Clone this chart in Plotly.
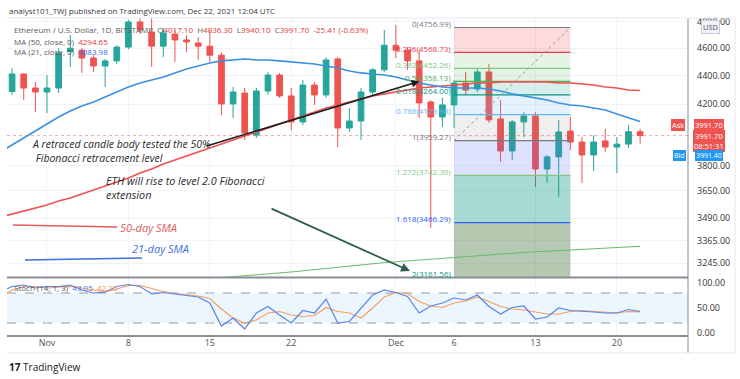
import math
import pandas as pd
import plotly.graph_objects as go

# ---------------- data ----------------
dates = [d.strftime("%Y-%m-%d") for d in pd.date_range("2021-10-28", "2021-12-22")]

open_p = [3912, 4288, 4411, 4312,
          4284, 4312, 4575, 4585, 4527, 4469, 4506, 4608, 4800, 4723,
          4615, 4707, 4662, 4639, 4615, 4548, 4202, 4277, 3995, 4291,
          4404, 4257, 4081, 4333, 4264, 4520, 4041, 4087, 4284, 4441,
          4622, 4585, 4506, 4215, 4114, 4195, 4347, 4305, 4426, 4101,
          3893, 4081, 4121, 3781, 3856, 4021, 3950, 3868, 3957, 3918,
          3937, 4017.10]
high_p = [4300, 4452, 4417, 4355,
          4404, 4600, 4700, 4600, 4548, 4520, 4622, 4816, 4868, 4855,
          4753, 4738, 4700, 4685, 4738, 4570, 4319, 4312, 4312, 4426,
          4419, 4312, 4369, 4355, 4534, 4534, 4174, 4312, 4455, 4738,
          4777, 4608, 4585, 4229, 4243, 4369, 4426, 4455, 4484, 4229,
          4094, 4147, 4147, 3868, 4094, 4114, 3982, 3995, 4035, 3982,
          4061, 4036.30]
low_p = [3880, 4264, 4229, 4147,
         4141, 4277, 4462, 4419, 4426, 4319, 4484, 4593, 4707, 4462,
         4534, 4498, 4570, 4513, 4498, 4127, 4107, 3963, 3976, 4264,
         4243, 4028, 4061, 4195, 4243, 3918, 4015, 3963, 4257, 4426,
         4527, 4441, 4107, 3437, 4048, 4041, 4264, 4284, 4074, 3825,
         3837, 3982, 3672, 3696, 3614, 3899, 3696, 3769, 3887, 3756,
         3912, 3940.10]
close_p = [4280, 4411, 4312, 4284,
           4312, 4563, 4600, 4527, 4469, 4506, 4608, 4800, 4738, 4615,
           4715, 4662, 4647, 4615, 4548, 4202, 4284, 4008, 4291, 4404,
           4257, 4081, 4333, 4264, 4513, 4041, 4087, 4284, 4441, 4622,
           4585, 4506, 4209, 4114, 4195, 4347, 4298, 4426, 4094, 3893,
           4081, 4121, 3781, 3856, 4015, 3950, 3868, 3950, 3918, 3937,
           4017, 3991.70]

ma50 = [3497, 3515, 3532, 3549, 3566, 3589, 3607, 3631, 3654, 3678,
        3702, 3726, 3756, 3781, 3812, 3837, 3862, 3887, 3912, 3937,
        3963, 3989, 4015, 4041, 4067, 4094, 4121, 4147, 4174, 4195,
        4215, 4236, 4257, 4271, 4284, 4298, 4312, 4319, 4326, 4333,
        4340, 4347, 4347, 4355, 4355, 4355, 4355, 4355, 4347, 4347,
        4340, 4333, 4319, 4312, 4298, 4294.65]
ma21 = [3887, 3931, 3976, 4021, 4067, 4114, 4154, 4188, 4215, 4250,
        4284, 4319, 4347, 4369, 4390, 4419, 4447, 4469, 4491, 4506,
        4513, 4520, 4513, 4513, 4506, 4498, 4491, 4484, 4469, 4455,
        4433, 4419, 4411, 4404, 4390, 4369, 4347, 4333, 4319, 4312,
        4312, 4312, 4305, 4291, 4271, 4257, 4243, 4229, 4209, 4195,
        4188, 4174, 4161, 4134, 4107, 4083.98]

ma_long_dates = ["2021-11-14", "2021-11-22", "2021-11-30", "2021-12-06", "2021-12-12", "2021-12-22"]
ma_long = [3160, 3199, 3248, 3275, 3302, 3335]

stoch_k = [82, 93, 96, 90,
           93, 93, 96, 86, 80, 82, 93, 97, 93, 78, 81, 78, 75, 72, 60, 14,
           30, 8, 40, 53, 36, 20, 45, 40, 68, 20, 23, 50, 76, 86,
           81, 73, 40, 54, 60, 70, 66, 76, 53, 38, 51, 54, 28, 32, 50, 45,
           44, 42, 40, 40, 47, 43.05]
stoch_d = [72, 86, 93, 93,
           90, 91, 93, 90, 86, 82, 88, 95, 95, 89, 83, 79, 76, 74, 69, 48,
           30, 20, 26, 40, 43, 36, 33, 35, 51, 43, 40, 30, 50, 72,
           81, 79, 63, 54, 51, 60, 64, 72, 63, 53, 48, 46, 42, 38, 38, 43,
           45, 43, 41, 40, 43, 42.25]

fib_levels = ["0", "0.236", "0.382", "0.5", "0.618", "0.786", "1", "1.272", "1.618", "2"]
fib_prices = [4756.99, 4568.73, 4452.26, 4358.13, 4264.00, 4129.98, 3959.27, 3742.30, 3466.29, 3161.56]
fib_start, fib_end = "2021-12-06", "2021-12-16"

price_ticks = [4800, 4600, 4400, 4200, 3800, 3650, 3490, 3365, 3245]
date_ticks = ["2021-11-01", "2021-11-08", "2021-11-15", "2021-11-22", "2021-12-01", "2021-12-06", "2021-12-13", "2021-12-20"]
date_tick_text = ["Nov", "8", "15", "22", "Dec", "6", "13", "20"]
x_range = ["2021-10-28 13:28", "2021-12-26 02:47"]
y_range = [3173, 4831]

# ---------------- styles ----------------
fib_line_colors = ["#787b86", "#f23645", "#81c784", "#4caf50", "#089981", "#64b5f6",
                   "#787b86", "#81c784", "#2962ff", "#089981"]
fib_band_colors = ["rgba(242,54,69,0.18)", "rgba(129,199,132,0.20)", "rgba(76,175,80,0.16)",
                   "rgba(8,153,129,0.16)", "rgba(100,181,246,0.18)", "rgba(120,123,134,0.12)",
                   "rgba(90,110,240,0.20)", "rgba(8,153,129,0.36)", "rgba(70,120,60,0.40)"]

W, H = 740, 379
L, R, T, B = 7, 52, 18, 43
PW = W - L - R
PH = H - T - B


def xp(px):
    return (px - L) / PW


def yp(py):
    return (H - B - py) / PH


lg = math.log10
fig = go.Figure()

# fib bands (behind everything)
for i in range(len(fib_prices) - 1):
    top, bot = fib_prices[i], fib_prices[i + 1]
    fig.add_trace(go.Scatter(x=[fib_start, fib_end, fib_end, fib_start, fib_start],
                             y=[top, top, bot, bot, top], mode="lines", fill="toself",
                             fillcolor=fib_band_colors[i], line=dict(width=0), hoverinfo="skip"))
for p, c in zip(fib_prices, fib_line_colors):
    fig.add_trace(go.Scatter(x=[fib_start, fib_end], y=[p, p], mode="lines",
                             line=dict(color=c, width=1.2), hoverinfo="skip"))

# last price line
fig.add_trace(go.Scatter(x=x_range, y=[close_p[-1], close_p[-1]], mode="lines",
                         line=dict(color="rgba(239,83,80,0.5)", width=1, dash="dot"), hoverinfo="skip"))

# MAs
fig.add_trace(go.Scatter(x=ma_long_dates, y=ma_long, mode="lines",
                         line=dict(color="#66bb6a", width=1), hoverinfo="skip"))
fig.add_trace(go.Scatter(x=dates, y=ma50, mode="lines",
                         line=dict(color="#ef5350", width=1.6), hoverinfo="skip"))
fig.add_trace(go.Scatter(x=dates, y=ma21, mode="lines",
                         line=dict(color="#3d8fe0", width=1.6), hoverinfo="skip"))

# candles
fig.add_trace(go.Candlestick(
    x=dates, open=open_p, high=high_p, low=low_p, close=close_p,
    increasing=dict(line=dict(color="#26a69a", width=1), fillcolor="#26a69a"),
    decreasing=dict(line=dict(color="#ef5350", width=1), fillcolor="#ef5350"),
    whiskerwidth=0, hoverinfo="skip"))

# fib trend (dotted diagonal)
fig.add_trace(go.Scatter(x=[fib_start, fib_end], y=[fib_prices[6], fib_prices[0]], mode="lines",
                         line=dict(color="#9598a1", width=1, dash="dot"), hoverinfo="skip"))

# stochastic
fig.add_trace(go.Scatter(x=dates, y=stoch_d, mode="lines", xaxis="x2", yaxis="y2",
                         line=dict(color="#f5a05e", width=1.2), hoverinfo="skip"))
fig.add_trace(go.Scatter(x=dates, y=stoch_k, mode="lines", xaxis="x2", yaxis="y2",
                         line=dict(color="#5b83ec", width=1.2), hoverinfo="skip"))

shapes = []
# stoch band
shapes.append(dict(type="rect", xref="paper", yref="y2", x0=0, x1=1, y0=20, y1=80,
                   fillcolor="rgba(33,150,243,0.09)", line=dict(width=0), layer="below"))
for lv in (20, 80):
    shapes.append(dict(type="line", xref="paper", yref="y2", x0=0, x1=1, y0=lv, y1=lv,
                       line=dict(color="#9598a1", width=1, dash="dash"), layer="below"))

# pane separators / frame
shapes.append(dict(type="line", xref="paper", yref="paper", x0=0, x1=1, y0=yp(277.5), y1=yp(277.5),
                   line=dict(color="#8a8d96", width=2)))
shapes.append(dict(type="line", xref="paper", yref="paper", x0=0, x1=1, y0=yp(336), y1=yp(336),
                   line=dict(color="#8a8d96", width=2)))
shapes.append(dict(type="line", xref="paper", yref="paper", x0=1, x1=1, y0=yp(353), y1=yp(18),
                   line=dict(color="#8a8d96", width=1)))
shapes.append(dict(type="line", xref="paper", yref="paper", x0=0, x1=xp(735), y0=yp(18), y1=yp(18),
                   line=dict(color="#e6e8ee", width=1)))
shapes.append(dict(type="line", xref="paper", yref="paper", x0=0, x1=xp(735), y0=yp(353), y1=yp(353),
                   line=dict(color="#e6e8ee", width=1)))
shapes.append(dict(type="line", xref="paper", yref="paper", x0=xp(735), x1=xp(735), y0=yp(353), y1=yp(18),
                   line=dict(color="#e6e8ee", width=1)))

# legend strokes next to SMA labels
shapes.append(dict(type="line", xref="paper", yref="paper", x0=xp(13), x1=xp(117), y0=yp(225), y1=yp(227),
                   line=dict(color="#e25b5b", width=1.6)))
shapes.append(dict(type="line", xref="paper", yref="paper", x0=xp(25), x1=xp(142), y0=yp(260), y1=yp(258),
                   line=dict(color="#3f6fd8", width=1.6)))

FONT = "Open Sans, Liberation Sans, Arial, sans-serif"
ann = []


def text(px, py, s, size=9, color="#555", anchor="left"):
    ann.append(dict(xref="paper", yref="paper", x=xp(px), y=yp(py), text=s, showarrow=False,
                    xanchor=anchor, yanchor="middle", align="left",
                    font=dict(size=size, color=color, family=FONT)))


red = "#e53935"
blue = "#2e6be6"
sp = lambda c, s: f'<span style="color:{c}">{s}</span>'

text(7, 10, "analyst101_TWJ published on TradingView.com, Dec 22, 2021 12:04 UTC", 8, "#3a3a3a")
text(12, 29, "Ethereum / U.S. Dollar, 1D, BITSTAMP  O" + sp(red, "4017.10") + "  H" + sp(red, "4036.30")
     + "  L" + sp(red, "3940.10") + "  C" + sp(red, "3991.70") + "  " + sp(red, "-25.41 (-0.63%)"), 8, "#5a5a5a")
text(12, 41, "MA (50, close, 0)  " + sp(red, "4294.65"), 8, "#5a5a5a")
text(12, 52, "MA (21, close, 0)  " + sp(blue, "4083.98"), 8, "#5a5a5a")

text(30, 150.5, "<i>A retraced candle body tested the 50%<br> Fibonacci retracement level</i>", 10.5, "#2b2b2b")
text(104, 187, "<i>ETH will rise to level 2.0 Fibonacci<br>extension</i>", 10.8, "#2b2b2b")
text(118, 227, "<i>50-day SMA</i>", 11, "#e25b5b")
text(130, 248, "<i>21-day SMA</i>", 11, "#3f6fd8")

text(12, 287, "Stoch (14, 1, 3)  " + sp("#4f77e6", "43.05") + "  " + sp("#f09a55", "42.25"), 8, "#5a5a5a")
text(7, 367, "<b>17</b> TradingView", 10, "#222")

# fib labels
for lv, p, c in zip(fib_levels, fib_prices, fib_line_colors):
    if p >= y_range[0]:
        ann.append(dict(xref="x", yref="y", x=fib_start, y=lg(p), text=f"{lv}({p:.2f})", showarrow=False,
                        xanchor="right", yanchor="middle", xshift=-1, yshift=4,
                        font=dict(size=8, color=c, family=FONT)))
    else:
        ann.append(dict(xref="x", yref="paper", x=fib_start, y=yp(273), text=f"{lv}({p:.2f})", showarrow=False,
                        xanchor="right", yanchor="middle", xshift=-1,
                        font=dict(size=8, color=c, family=FONT)))

# arrows
ann.append(dict(xref="x", yref="y", x="2021-12-03", y=lg(fib_prices[3]), ax=-214, ay=65,
                axref="pixel", ayref="pixel", text="", showarrow=True, arrowhead=2,
                arrowsize=1, arrowwidth=1.5, arrowcolor="#1c1c1c"))
ann.append(dict(xref="paper", yref="paper", x=xp(410), y=yp(271), ax=-140, ay=-63,
                text="", showarrow=True, arrowhead=2, arrowsize=1, arrowwidth=1.8, arrowcolor="#2f5d50"))


def box(px, py, s, bg, fc="white", size=7.5, border=None, pad=0):
    ann.append(dict(xref="paper", yref="paper", x=xp(px), y=yp(py), text=s, showarrow=False,
                    xanchor="center", yanchor="middle", bgcolor=bg, borderpad=pad,
                    bordercolor=border or bg, font=dict(size=size, color=fc, family=FONT)))


box(710, 27, "USD", "#f0f3fa", "#555", 7.5, "#c8cbd4", 1)
box(678, 125, "Ask", "#ef5350")
box(709, 125, "3991.70", "#ef5350")
box(709, 141, "3991.70<br>08:51:31", "#ef5350")
box(679, 155, "Bid", "#2196f3", size=7)
box(709, 155, "3991.40", "#2196f3", size=7)

fig.update_layout(
    width=W, height=H, margin=dict(l=L, r=R, t=T, b=B),
    paper_bgcolor="white", plot_bgcolor="white", showlegend=False,
    shapes=shapes, annotations=ann,
    xaxis=dict(domain=[0, 1], anchor="y", type="date", range=x_range,
               tickvals=date_ticks, showticklabels=False, showgrid=True, gridcolor="#f0f3fa",
               zeroline=False, rangeslider=dict(visible=False), fixedrange=True),
    yaxis=dict(domain=[yp(277), 1], anchor="x", type="log", side="right",
               range=[lg(y_range[0]), lg(y_range[1])], tickvals=price_ticks,
               ticktext=[f"{v:.2f}" for v in price_ticks], showgrid=True, gridcolor="#f0f3fa",
               zeroline=False, ticks="", ticklabelstandoff=8,
               tickfont=dict(size=9, color="#333", family=FONT)),
    xaxis2=dict(domain=[0, 1], anchor="y2", type="date", matches="x",
                tickvals=date_ticks, ticktext=date_tick_text, showgrid=True, gridcolor="#f0f3fa",
                zeroline=False, ticks="", tickfont=dict(size=9, color="#555", family=FONT)),
    yaxis2=dict(domain=[0, yp(279)], anchor="x2", range=[-6, 108], side="right",
                tickvals=[0, 50, 100], ticktext=["0.00", "50.00", "100.00"],
                showgrid=False, zeroline=False, ticks="", ticklabelstandoff=8,
                tickfont=dict(size=9, color="#333", family=FONT)),
)

fig.write_html("out.html", config={"displayModeBar": False},
               post_script="document.body.style.margin='0px';")
